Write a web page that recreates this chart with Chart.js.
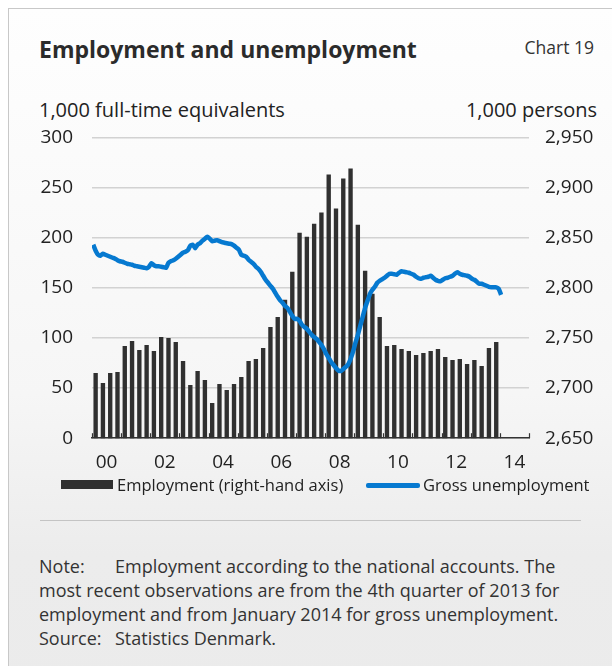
<!DOCTYPE html>
<html>
<head>
<meta charset="utf-8">
<script src="https://cdn.jsdelivr.net/npm/chart.js@4/dist/chart.umd.min.js"></script>
<style>
  body { margin: 0; width: 612px; height: 666px; overflow: hidden; font-family: "Open Sans", sans-serif; color: #222; background: #fff; }
  #card { position: absolute; left: 8px; top: 8px; width: 640px; height: 700px; border: 1px solid #c8c8c8;
          background: linear-gradient(#fefefe 0%, #f6f6f6 55%, #ececec 78%, #ebebeb 100%); }
  .txt { position: absolute; white-space: nowrap; }
  #title { left: 30px; top: 24px; font-size: 23px; font-weight: 700; color: #2b2b2b; }
  #chartno { right: 55px; top: 26px; font-size: 17.5px; color: #333; }
  #lunit { left: 30px; top: 87px; font-size: 20px; }
  #runit { right: 52px; top: 87px; font-size: 20px; }
  #wrap { position: absolute; left: -9px; top: 98px; width: 612px; height: 380px; }
  .sw { position: absolute; }
  #sw1 { left: 52px; top: 471px; width: 52px; height: 9px; background: #303030; }
  #sw2 { left: 357px; top: 474px; width: 54px; height: 5px; border-radius: 2px; background: #0679d0; }
  #lg1 { left: 108px; top: 464px; font-size: 16.5px; }
  #lg2 { left: 414px; top: 464px; font-size: 16.5px; }
  #sep { position: absolute; left: 31px; top: 511px; width: 541px; border-top: 1px solid #c4c4c4; }
  #note { left: 30px; top: 545px; font-size: 18px; line-height: 24px; color: #333; }
  #note span { display: inline-block; width: 76px; }
</style>
</head>
<body>
<div id="card">
  <div class="txt" id="title">Employment and unemployment</div>
  <div class="txt" id="chartno">Chart 19</div>
  <div class="txt" id="lunit">1,000 full-time equivalents</div>
  <div class="txt" id="runit">1,000 persons</div>
  <div id="wrap"><canvas id="chart"></canvas></div>
  <div class="sw" id="sw1"></div><div class="txt" id="lg1">Employment (right-hand axis)</div>
  <div class="sw" id="sw2"></div><div class="txt" id="lg2">Gross unemployment</div>
  <div id="sep"></div>
  <div class="txt" id="note"><span>Note:</span>Employment according to the national accounts. The<br>most recent observations are from the 4th quarter of 2013 for<br>employment and from January 2014 for gross unemployment.<br><span>Source:</span>Statistics Denmark.</div>
</div>
<script>
// Employment, 1,000 persons, quarterly 2000Q1 - 2013Q4 (right-hand axis)
const employment = [
  2715, 2705, 2715, 2716,
  2742, 2747, 2738, 2743,
  2737, 2751, 2750, 2746,
  2727, 2703, 2717, 2708,
  2685, 2704, 2698, 2704,
  2711, 2727, 2729, 2740,
  2761, 2771, 2788, 2816,
  2855, 2851, 2864, 2875,
  2913, 2879, 2909, 2919,
  2863, 2817, 2794, 2771,
  2742, 2743, 2739, 2737,
  2733, 2735, 2737, 2739,
  2731, 2728, 2729, 2724,
  2728, 2722, 2740, 2746
];

// Gross unemployment, 1,000 full-time equivalents, monthly Jan 2000 - Jan 2014
const unemployment = [
  193, 187, 183, 182, 184, 183, 182, 181, 180, 179, 177.5, 176.5,
  176, 175, 174, 173.5, 173, 172, 171.5, 171, 170.5, 170, 169.5, 171,
  174.5, 172.5, 171.5, 171.5, 171, 170.5, 170, 175, 176.5, 177.5, 179, 181,
  183, 185, 186, 187.5, 192, 193, 189.5, 193, 194.5, 197, 199, 201,
  199, 196.5, 197, 197.5, 196.5, 195.5, 195, 194.5, 194, 193.5, 192, 190,
  188, 183, 182, 181, 178, 176, 174, 171, 169, 166, 162, 158,
  155, 152, 149, 145, 141, 137.5, 135, 132, 130, 126, 122, 119,
  119, 117, 113, 111, 109, 106, 103, 101, 99, 96, 93, 89,
  84, 80, 76, 73, 70, 67.5, 67, 69, 71, 73.5, 79, 86,
  95, 103, 112, 121, 130, 137, 144, 148, 151, 155, 157, 158.5,
  160, 162, 164, 164, 163.5, 163, 165, 166.5, 166, 165.5, 165, 164,
  163, 161, 159.5, 159, 160, 160.5, 161, 162, 160, 158, 157, 156.5,
  158, 159.5, 160, 161, 162, 164, 165.5, 164, 163, 162.5, 162, 161,
  159, 158, 156, 154, 154, 153, 152, 151, 150.5, 150.5, 150.5, 149,
  143
];

const firstYear = 2000;
const lastYear = 2015;
const yearLabels = ['00', '02', '04', '06', '08', '10', '12', '14'];
const leftTicks = [0, 50, 100, 150, 200, 250, 300];
const rightTicks = [2650, 2700, 2750, 2800, 2850, 2900, 2950];

const barPoints = employment.map((v, i) => ({ x: firstYear + (i + 0.5) / 4, y: v }));
const linePoints = unemployment.map((v, i) => ({ x: firstYear + (i + 0.5) / 12, y: v }));

// year labels sit in the middle of each (even) year
const labelAt = {};
yearLabels.forEach(l => { labelAt[firstYear + Number(l) + 0.5] = l; });

// small tick marks pointing up from the baseline at every year boundary
const innerTicks = {
  id: 'innerTicks',
  afterDatasetsDraw(chart) {
    const x = chart.scales.x, ctx = chart.ctx, bottom = chart.chartArea.bottom;
    ctx.save();
    ctx.strokeStyle = '#333';
    ctx.lineWidth = 1.2;
    for (let yr = firstYear; yr <= lastYear; yr++) {
      const px = Math.round(x.getPixelForValue(yr)) + 0.5;
      ctx.beginPath();
      ctx.moveTo(px, bottom);
      ctx.lineTo(px, bottom - 5);
      ctx.stroke();
    }
    ctx.restore();
  }
};

const tickFont = { family: 'Open Sans', size: 19 };

new Chart(document.getElementById('chart'), {
  data: {
    datasets: [
      {
        type: 'bar',
        label: 'Employment (right-hand axis)',
        data: barPoints,
        yAxisID: 'y1',
        backgroundColor: '#303030',
        borderWidth: 0,
        barPercentage: 0.6,
        categoryPercentage: 1,
        order: 1
      },
      {
        type: 'line',
        label: 'Gross unemployment',
        data: linePoints,
        yAxisID: 'y',
        borderColor: '#0679d0',
        borderWidth: 4.5,
        pointRadius: 0,
        tension: 0.2,
        order: 0
      }
    ]
  },
  options: {
    responsive: true,
    maintainAspectRatio: false,
    animation: false,
    layout: { padding: { left: 36, top: 12, right: 0, bottom: 0 } },
    plugins: {
      tooltip: { enabled: false },
      legend: { display: false }
    },
    scales: {
      x: {
        type: 'linear',
        min: firstYear,
        max: lastYear,
        offset: false,
        afterBuildTicks: axis => { axis.ticks = Object.keys(labelAt).map(v => ({ value: Number(v) })); },
        ticks: {
          autoSkip: false,
          maxRotation: 0,
          padding: 13,
          color: '#222',
          font: tickFont,
          callback: v => labelAt[v] || ''
        },
        grid: { display: false, drawTicks: false },
        border: { display: true, color: '#333', width: 1.5 }
      },
      y: {
        position: 'left',
        min: 0,
        max: 300,
        afterBuildTicks: axis => { axis.ticks = leftTicks.map(v => ({ value: v })); },
        afterFit: axis => { axis.width = 56; },
        ticks: { padding: 19, color: '#222', font: tickFont },
        grid: { color: '#d2d2d2', lineWidth: 1.5, drawTicks: false },
        border: { display: false }
      },
      y1: {
        position: 'right',
        min: 2650,
        max: 2950,
        afterBuildTicks: axis => { axis.ticks = rightTicks.map(v => ({ value: v })); },
        afterFit: axis => { axis.width = 83; },
        ticks: { padding: 16, color: '#222', font: tickFont, callback: v => v.toLocaleString('en-US') },
        grid: { display: false, drawTicks: false },
        border: { display: false }
      }
    }
  },
  plugins: [innerTicks]
});
</script>
</body>
</html>
